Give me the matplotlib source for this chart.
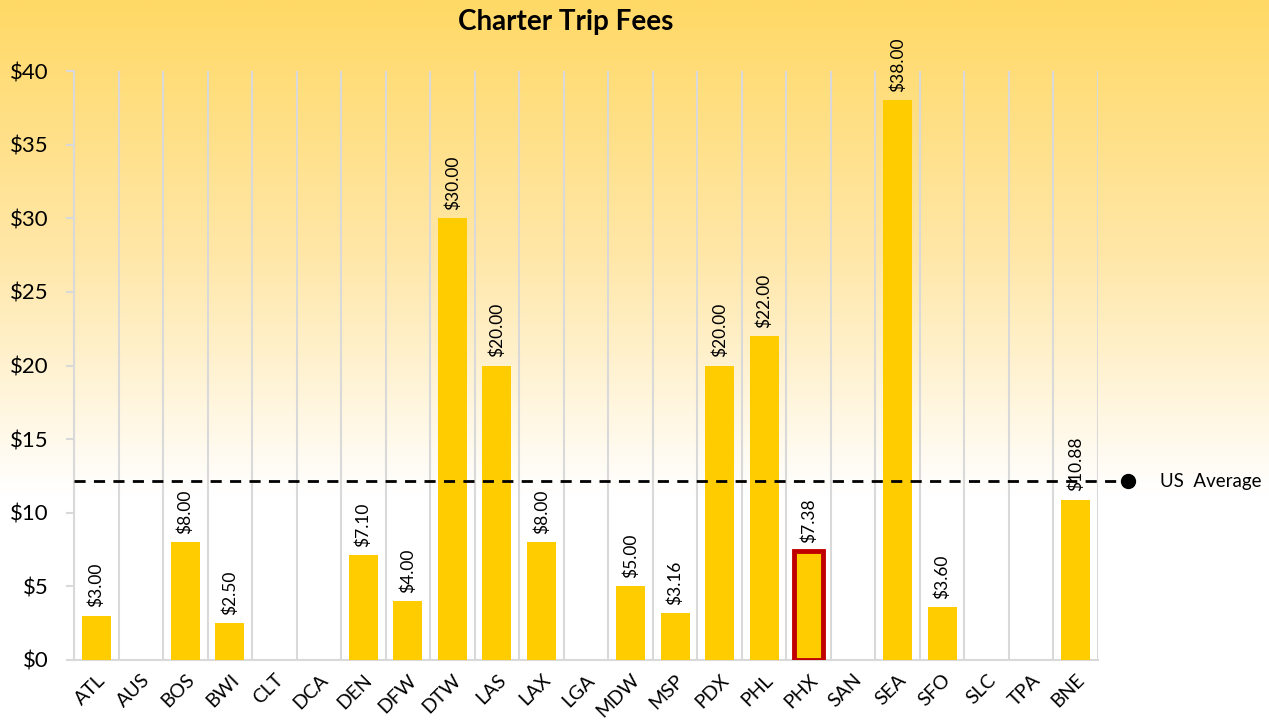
import numpy as np
import matplotlib
matplotlib.use("Agg")
import matplotlib.pyplot as plt
from matplotlib.colors import LinearSegmentedColormap

categories = ["ATL", "AUS", "BOS", "BWI", "CLT", "DCA", "DEN", "DFW", "DTW", "LAS", "LAX",
              "LGA", "MDW", "MSP", "PDX", "PHL", "PHX", "SAN", "SEA", "SFO", "SLC", "TPA", "BNE"]
values = [3.00, None, 8.00, 2.50, None, None, 7.10, 4.00, 30.00, 20.00, 8.00,
          None, 5.00, 3.16, 20.00, 22.00, 7.38, None, 38.00, 3.60, None, None, 10.88]
highlight = "PHX"
us_average = 12.15
yticks = [0, 5, 10, 15, 20, 25, 30, 35, 40]

plt.rcParams['font.family'] = ['Lato', 'DejaVu Sans']

W, H = 1269, 728
fig = plt.figure(figsize=(W / 100, H / 100), dpi=100)

# gradient background
bg = fig.add_axes([0, 0, 1, 1], zorder=-10)
cmap = LinearSegmentedColormap.from_list("g", [(0, "#FFD966"), (0.35, "#FFE7A8"), (0.68, "#FFFFFF"), (1, "#FFFFFF")])
grad = np.linspace(0, 1, 400).reshape(-1, 1)
bg.imshow(grad, aspect="auto", cmap=cmap, extent=[0, 1, 0, 1])
bg.axis("off")

left, right, top, bottom = 74, 1098, 71, 660
ax = fig.add_axes([left / W, 1 - bottom / H, (right - left) / W, (bottom - top) / H])
ax.set_facecolor("none")

n = len(categories)
x = np.arange(n)
vals = [v if v is not None else 0 for v in values]
bars = ax.bar(x, vals, width=0.65, color="#FFCC00", zorder=3)
for i, (c, v) in enumerate(zip(categories, values)):
    if c == highlight:
        bars[i].set_edgecolor("#C00000")
        bars[i].set_linewidth(3.5)
    if v is not None:
        ax.annotate(f"${v:.2f}", (x[i], v), xytext=(0, 6), textcoords="offset points",
                    rotation=90, ha="center", va="bottom", fontsize=12.5, zorder=5,
                    annotation_clip=False)

ax.set_xlim(-0.5, n - 0.5)
ax.set_ylim(0, 40)
for b in np.arange(-0.5, n, 1.0):
    ax.axvline(b, color="#D9D9D9", lw=1.5, zorder=1)

ax.set_yticks(yticks)
ax.set_yticklabels([f"${t}" for t in yticks], fontsize=16)
ax.set_xticks(x)
ax.set_xticklabels(categories, rotation=45, ha="right", rotation_mode="anchor", fontsize=14)
ax.tick_params(axis="x", length=0, pad=8)
ax.tick_params(axis="y", length=6, color="#D9D9D9", width=1.5, pad=12)
for s in ["top", "right"]:
    ax.spines[s].set_visible(False)
for s in ["left", "bottom"]:
    ax.spines[s].set_color("#D9D9D9")
    ax.spines[s].set_linewidth(1.5)

# US average line
xend = 23.17
ax.plot([-0.5, xend], [us_average, us_average], ls=(0, (4, 3)), color="black", lw=2, zorder=4, clip_on=False)
ax.plot([xend], [us_average], "o", color="black", ms=10, zorder=6, clip_on=False)
ax.text(xend + 0.72, us_average, "US  Average", va="center", ha="left", fontsize=13.5)

fig.text(566 / W, 1 - 22 / H, "Charter Trip Fees", ha="center", va="center", fontsize=20, fontweight="bold")

fig.savefig("out.png", dpi=100)
